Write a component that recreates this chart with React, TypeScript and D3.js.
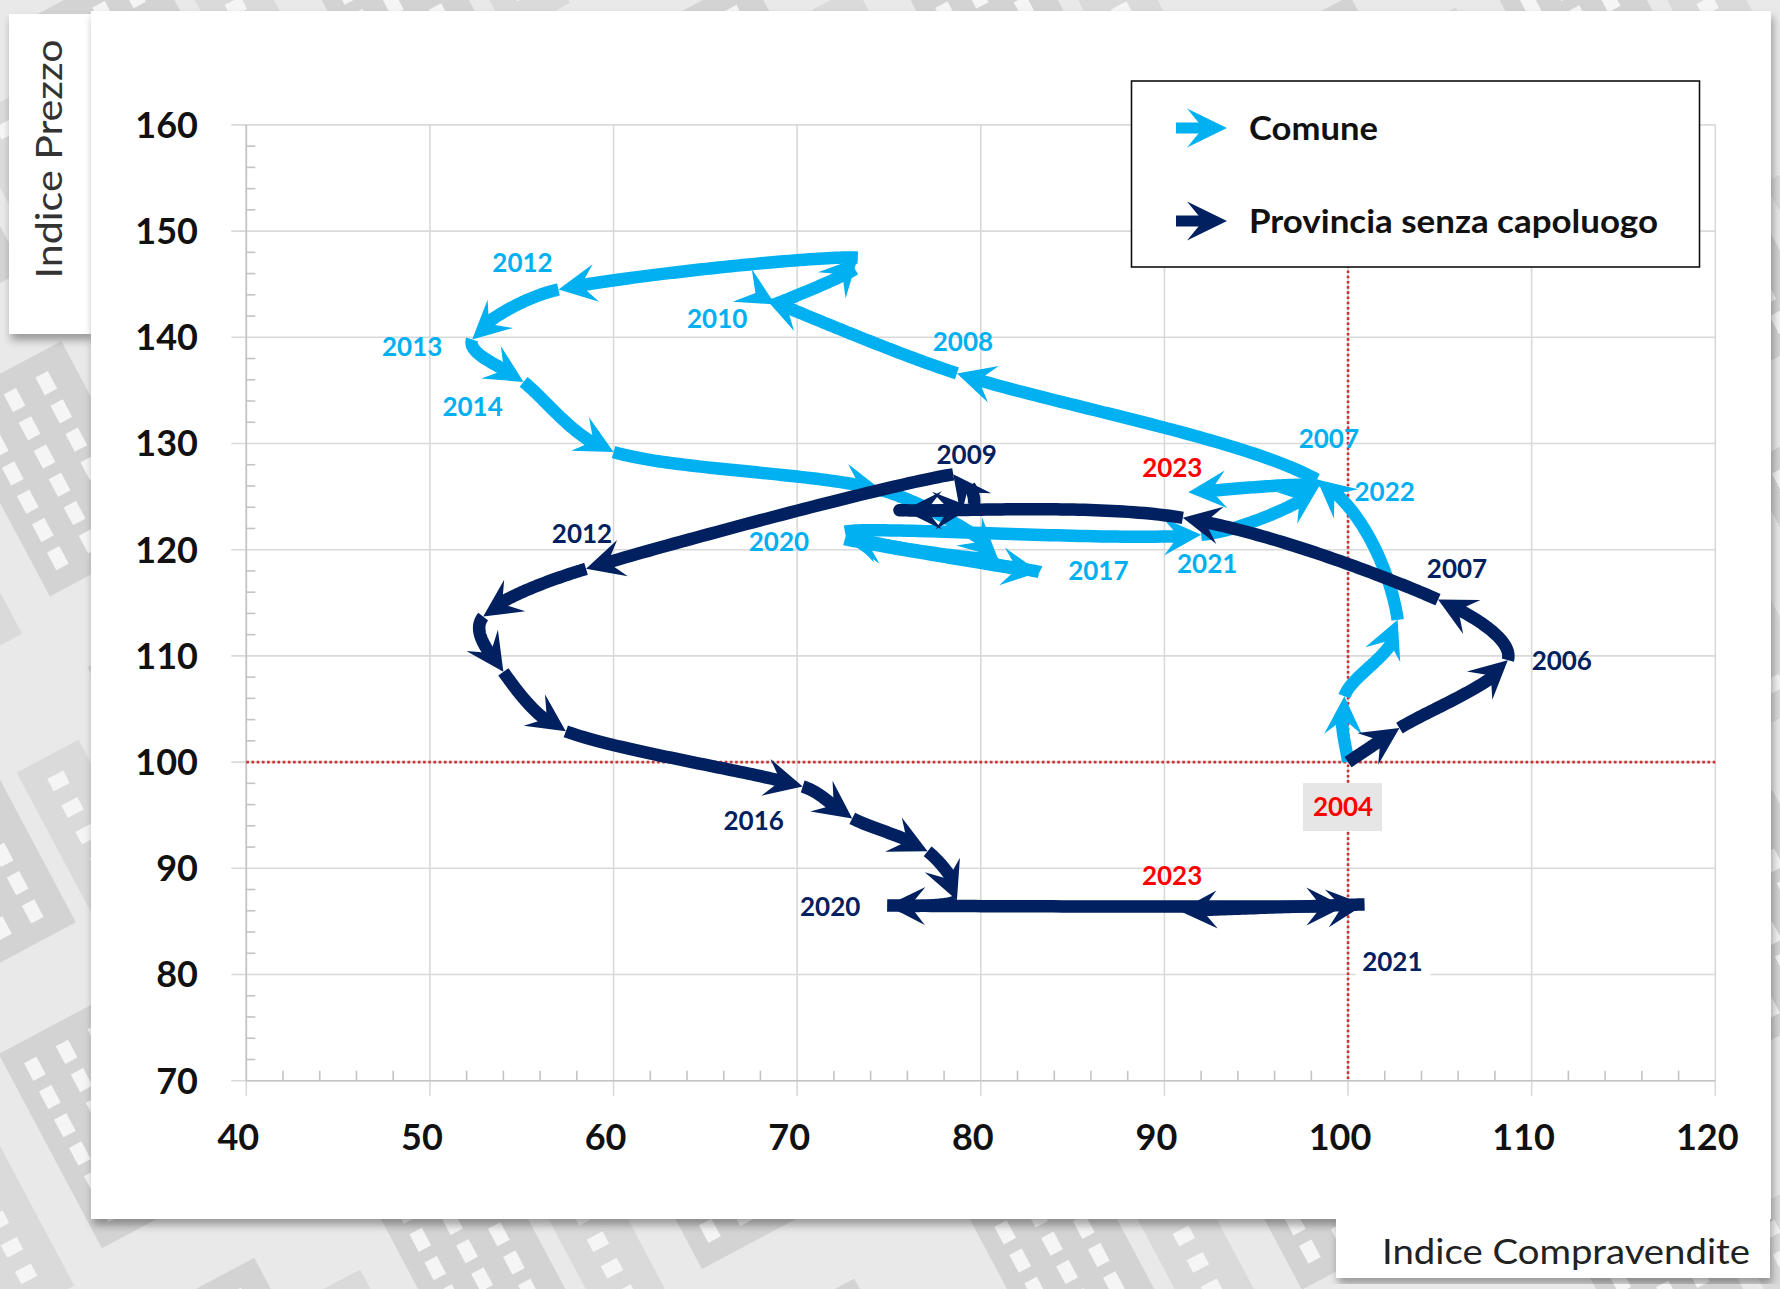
import * as d3 from "d3";

// year-by-year path, Comune vs Provincia senza capoluogo (index 2004 = 100)
const years = [
  2004, 2005, 2006, 2007, 2008, 2009, 2010, 2011, 2012, 2013,
  2014, 2015, 2016, 2017, 2018, 2019, 2020, 2021, 2022, 2023,
];

const comuneCompravendite = [
  100, 99.8, 102.7, 98.3, 78.7, 68.3, 68.8, 73.3, 57.0, 52.3,
  55.1, 60.0, 74.6, 80.9, 72.6, 83.2, 72.6, 92.0, 98.4, 91.3,
];
const comunePrezzo = [
  100, 106.2, 113.4, 126.6, 136.6, 143.6, 143.1, 147.5, 144.5, 139.8,
  135.8, 129.2, 125.6, 119.3, 121.0, 117.9, 121.7, 121.4, 125.9, 125.4,
];

const provinciaCompravendite = [
  100, 102.8, 108.7, 104.9, 91.0, 75.8, 79.5, 78.5, 58.5, 52.9,
  54.0, 57.4, 70.3, 73.0, 77.1, 78.7, 74.9, 99.8, 100.9, 90.8,
];
const provinciaPrezzo = [
  100, 103.2, 109.6, 115.3, 123.0, 123.7, 124.0, 127.1, 118.2, 113.7,
  108.5, 102.9, 97.7, 94.7, 91.6, 87.0, 86.5, 86.4, 86.6, 86.0,
];

const xTickValues = [40, 50, 60, 70, 80, 90, 100, 110, 120];
const yTickValues = [70, 80, 90, 100, 110, 120, 130, 140, 150, 160];

// which years carry a label, and where the label sits relative to the point
const comuneLabels = [
  { year: 2007, dx: 12, dy: -41 },
  { year: 2008, dx: 6, dy: -32 },
  { year: 2010, dx: -58, dy: 14 },
  { year: 2012, dx: -36, dy: -27 },
  { year: 2013, dx: -60, dy: 7 },
  { year: 2014, dx: -51, dy: 25 },
  { year: 2017, dx: 101, dy: 14 },
  { year: 2020, dx: -66, dy: 10 },
  { year: 2021, dx: 6, dy: 29 },
  { year: 2022, dx: 66, dy: 5 },
  { year: 2023, dx: -16, dy: -25, red: true },
];
const provinciaLabels = [
  { year: 2004, dx: -5, dy: 45, red: true, box: "#e6e6e6" },
  { year: 2006, dx: 54, dy: 0 },
  { year: 2007, dx: 19, dy: -31 },
  { year: 2009, dx: 63, dy: -56 },
  { year: 2012, dx: -4, dy: -35 },
  { year: 2016, dx: -49, dy: 34 },
  { year: 2020, dx: -57, dy: 1 },
  { year: 2021, dx: 48, dy: 55, box: "#ffffff" },
  { year: 2023, dx: -7, dy: -35, red: true },
];

const LIGHT = "#00B0F0";
const DARK = "#002060";
const RED = "#FF0000";
const FONT = "Lato, 'Open Sans', sans-serif";

const ARROW_LEN = 38;
const ARROW_W = 38;
const LINE_W = 12.5;

type Pt = [number, number];

function bez(p1: Pt, c1: Pt, c2: Pt, p2: Pt, t: number): Pt {
  const u = 1 - t;
  const a = u * u * u, b = 3 * u * u * t, c = 3 * u * t * t, d = t * t * t;
  return [
    a * p1[0] + b * c1[0] + c * c2[0] + d * p2[0],
    a * p1[1] + b * c1[1] + c * c2[1] + d * p2[1],
  ];
}

function arrowPoints(tip: Pt, dir: Pt, len: number, w: number) {
  const l = Math.hypot(dir[0], dir[1]) || 1;
  const ux = dir[0] / l, uy = dir[1] / l;
  const nx = -uy, ny = ux;
  const bx = tip[0] - ux * len, by = tip[1] - uy * len;
  const pts: Pt[] = [
    tip,
    [bx + nx * w / 2, by + ny * w / 2],
    [tip[0] - ux * len * 0.6, tip[1] - uy * len * 0.6],
    [bx - nx * w / 2, by - ny * w / 2],
  ];
  return pts.map((p) => p.join(",")).join(" ");
}

// smoothed segment i -> i+1 (excel-like bezier), shaft trimmed under the arrowhead
function buildSegments(points: Pt[]) {
  const line = d3.line();
  return points.slice(1).map((p2, k) => {
    const i = k;
    const p0 = points[Math.max(0, i - 1)];
    const p1 = points[i];
    const p3 = points[Math.min(points.length - 1, i + 2)];
    const chord = Math.hypot(p2[0] - p1[0], p2[1] - p1[1]);
    const clamp = (v: Pt): Pt => {
      const l = Math.hypot(v[0], v[1]);
      const m = chord * 0.35;
      return l > m && l > 0 ? [(v[0] * m) / l, (v[1] * m) / l] : v;
    };
    const v1 = clamp([(p2[0] - p0[0]) / 6, (p2[1] - p0[1]) / 6]);
    const v2 = clamp([(p3[0] - p1[0]) / 6, (p3[1] - p1[1]) / 6]);
    const c1: Pt = [p1[0] + v1[0], p1[1] + v1[1]];
    const c2: Pt = [p2[0] - v2[0], p2[1] - v2[1]];

    const samples = d3.range(0, 61).map((s) => bez(p1, c1, c2, p2, s / 60));
    const cum = [0];
    for (let s = 1; s < samples.length; s++) {
      cum.push(cum[s - 1] + Math.hypot(samples[s][0] - samples[s - 1][0], samples[s][1] - samples[s - 1][1]));
    }
    const total = cum[cum.length - 1];
    const at = (len: number): Pt => {
      if (len <= 0) return samples[0];
      for (let s = 1; s < samples.length; s++) {
        if (cum[s] >= len) {
          const f = (len - cum[s - 1]) / (cum[s] - cum[s - 1] || 1);
          return [
            samples[s - 1][0] + f * (samples[s][0] - samples[s - 1][0]),
            samples[s - 1][1] + f * (samples[s][1] - samples[s - 1][1]),
          ];
        }
      }
      return samples[samples.length - 1];
    };

    const cut = total - ARROW_LEN * 0.55;
    let shaft: string | null = null;
    if (cut > 0) {
      const pts = samples.filter((_, s) => cum[s] < cut);
      pts.push(at(cut));
      shaft = line(pts);
    }
    const back = at(Math.max(0, total - ARROW_LEN));
    let dir: Pt = [p2[0] - back[0], p2[1] - back[1]];
    if (Math.hypot(dir[0], dir[1]) < 1) dir = [p2[0] - p1[0], p2[1] - p1[1]];
    if (Math.hypot(dir[0], dir[1]) < 0.1) dir = [1, 0];
    return { shaft, arrow: arrowPoints(p2, dir, ARROW_LEN, ARROW_W) };
  });
}

export default function App() {
  const width = 1780;
  const height = 1289;
  const x = d3.scaleLinear().domain([40, 120]).range([246.3, 1715.3]);
  const y = d3.scaleLinear().domain([70, 160]).range([1080.7, 124.9]);
  const [x0, x1] = x.range();
  const [y0, y1] = y.range();

  const series = [
    { key: "comune", color: LIGHT, xs: comuneCompravendite, ys: comunePrezzo, labels: comuneLabels },
    { key: "provincia", color: DARK, xs: provinciaCompravendite, ys: provinciaPrezzo, labels: provinciaLabels },
  ].map((s) => {
    const pts: Pt[] = s.xs.map((v, i) => [x(v), y(s.ys[i])]);
    return { ...s, pts, segments: buildSegments(pts) };
  });

  const minorX = x.ticks(40).filter((v) => v % 10 !== 0);
  const minorY = y.ticks(45).filter((v) => v % 10 !== 0);

  return (
    <svg
      width={width}
      height={height}
      viewBox={`0 0 ${width} ${height}`}
      style={{ position: "absolute", left: 0, top: 0, display: "block" }}
    >
      <defs>
        <pattern id="bld" width="260" height="300" patternUnits="userSpaceOnUse" patternTransform="rotate(-28)">
          <rect width="260" height="300" fill="#e9e9e9" />
          <rect x="24" y="30" width="130" height="220" fill="#d3d3d3" />
          <rect x="172" y="90" width="70" height="180" fill="#dadada" />
          {d3.range(6).map((r) =>
            d3.range(3).map((c) => (
              <rect key={`w${r}-${c}`} x={42 + c * 36} y={50 + r * 32} width="14" height="20" fill="#f5f5f5" />
            )),
          )}
          {d3.range(5).map((r) => (
            <rect key={`v${r}`} x="196" y={110 + r * 30} width="18" height="14" fill="#f5f5f5" />
          ))}
        </pattern>
        <filter id="shadow" x="-5%" y="-5%" width="110%" height="115%">
          <feDropShadow dx="2" dy="6" stdDeviation="4" floodColor="#000" floodOpacity="0.35" />
        </filter>
      </defs>

      {/* background and panels */}
      <rect width={width} height={height} fill="url(#bld)" />
      <rect x="9" y="14" width="82" height="320" fill="#fff" filter="url(#shadow)" />
      <rect x="91" y="11" width="1680" height="1208" fill="#fff" filter="url(#shadow)" />
      <rect x="1336" y="1219" width="434" height="59" fill="#fff" filter="url(#shadow)" />
      <rect x="91" y="11" width="1680" height="1208" fill="#fff" />

      <text
        transform="translate(62,159) rotate(-90)"
        textAnchor="middle"
        fontFamily={FONT}
        fontSize="37"
        fill="#333"
        textLength="239"
        lengthAdjust="spacingAndGlyphs"
      >
        Indice Prezzo
      </text>
      <text
        x="1382"
        y="1264"
        fontFamily={FONT}
        fontSize="35"
        fill="#222"
        textLength="368"
        lengthAdjust="spacingAndGlyphs"
      >
        Indice Compravendite
      </text>

      {/* grid */}
      <g stroke="#d9d9d9" strokeWidth="1.6">
        {xTickValues.map((v) => (
          <line key={`gx${v}`} x1={x(v)} x2={x(v)} y1={y1} y2={y0 + 15} />
        ))}
        {yTickValues.map((v) => (
          <line key={`gy${v}`} x1={x0 - 15} x2={x1} y1={y(v)} y2={y(v)} />
        ))}
      </g>
      <g stroke="#c4c4c4" strokeWidth="1.6">
        <line x1={x0} x2={x0} y1={y1} y2={y0} />
        <line x1={x0} x2={x1} y1={y0} y2={y0} />
        {minorX.map((v) => (
          <line key={`mx${v}`} x1={x(v)} x2={x(v)} y1={y0} y2={y0 - 10} />
        ))}
        {minorY.map((v) => (
          <line key={`my${v}`} x1={x0} x2={x0 + 9} y1={y(v)} y2={y(v)} />
        ))}
      </g>

      {/* reference lines at 100 */}
      <g stroke="#cc3333" strokeWidth="2.6" strokeDasharray="2.6 2.6">
        <line x1={x0} x2={x1} y1={y(100)} y2={y(100)} />
        <line x1={x(100)} x2={x(100)} y1={y1} y2={y0} />
      </g>

      {/* tick labels */}
      <g fontFamily={FONT} fontWeight="700" fontSize="36" fill="#111">
        {yTickValues.map((v) => (
          <text key={`ty${v}`} x={198} y={y(v)} dy="0.36em" textAnchor="end">
            {v}
          </text>
        ))}
        {xTickValues.map((v) => (
          <text key={`tx${v}`} x={x(v) - 8} y={1150} textAnchor="middle">
            {v}
          </text>
        ))}
      </g>

      {/* paths with arrows */}
      {series.map((s) => (
        <g key={s.key} fill={s.color}>
          {s.segments.map((seg, i) => (
            <g key={i}>
              {seg.shaft && (
                <path d={seg.shaft} fill="none" stroke={s.color} strokeWidth={LINE_W} strokeLinecap="butt" strokeLinejoin="round" />
              )}
              <polygon points={seg.arrow} />
            </g>
          ))}
        </g>
      ))}

      {/* year labels */}
      <g fontFamily={FONT} fontWeight="700" fontSize="26">
        {series.map((s) =>
          s.labels.map((lab) => {
            const i = years.indexOf(lab.year);
            const cx = s.pts[i][0] + lab.dx;
            const cy = s.pts[i][1] + lab.dy;
            const box = (lab as { box?: string }).box;
            return (
              <g key={`${s.key}-${lab.year}`}>
                {box && (
                  <rect
                    x={cx - (box === "#ffffff" ? 37 : 40)}
                    y={cy - (box === "#ffffff" ? 17 : 24)}
                    width={box === "#ffffff" ? 75 : 79}
                    height={box === "#ffffff" ? 34 : 48}
                    fill={box}
                  />
                )}
                <text x={cx} y={cy} dy="0.36em" textAnchor="middle" fill={lab.red ? RED : s.color}>
                  {lab.year}
                </text>
              </g>
            );
          }),
        )}
      </g>

      {/* legend */}
      <g>
        <rect x="1131.5" y="81" width="568" height="186" fill="#fff" stroke="#111" strokeWidth="1.6" />
        {[
          { name: "Comune", color: LIGHT, cy: 128, len: 129 },
          { name: "Provincia senza capoluogo", color: DARK, cy: 221, len: 409 },
        ].map((e) => (
          <g key={e.name}>
            <line x1="1176" x2="1206" y1={e.cy} y2={e.cy} stroke={e.color} strokeWidth="11" />
            <polygon points={arrowPoints([1227, e.cy], [1, 0], 40, 39)} fill={e.color} />
            <text
              x="1249"
              y={e.cy + 12}
              fontFamily={FONT}
              fontWeight="700"
              fontSize="33"
              fill="#111"
              textLength={e.len}
              lengthAdjust="spacingAndGlyphs"
            >
              {e.name}
            </text>
          </g>
        ))}
      </g>
    </svg>
  );
}
